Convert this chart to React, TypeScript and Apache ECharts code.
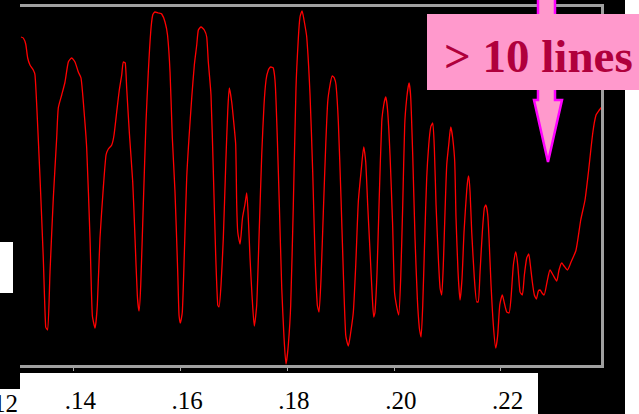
import React, { useEffect, useRef } from "react";
import * as echarts from "echarts";

// Wavelength (x1000) and relative intensity
const spectrum: [number, number][] = [
  [130.19, 328], [130.62, 327], [131.07, 321], [131.44, 307], [131.87, 300], [132.49, 295], [132.81, 290], [133.13, 260],
  [133.75, 187], [134.36, 107], [134.81, 38], [135.19, 35], [135.62, 93], [136.24, 167], [136.87, 227], [137.17, 257],
  [137.81, 270], [138.43, 283], [139.05, 303], [139.68, 307], [140.30, 303], [140.92, 293], [141.43, 287], [141.86, 263],
  [142.49, 217], [143.11, 127], [143.54, 50], [144.05, 37], [144.48, 60], [144.98, 127], [145.60, 177], [146.11, 210],
  [146.54, 216], [147.18, 220], [147.61, 230], [148.11, 253], [148.60, 275], [149.05, 290], [149.35, 303], [149.72, 302],
  [149.98, 277], [150.47, 233], [151.11, 183], [151.54, 127], [151.97, 70], [152.29, 54], [152.61, 80], [153.09, 160],
  [153.60, 243], [154.03, 293], [154.48, 333], [154.85, 350], [155.29, 353], [155.90, 352], [156.54, 351], [157.16, 343],
  [157.63, 330], [158.10, 293], [158.53, 227], [159.03, 173], [159.54, 93], [159.78, 50], [160.02, 42], [160.40, 53],
  [160.77, 110], [161.22, 187], [161.65, 227], [162.16, 267], [162.65, 300], [163.10, 320], [163.40, 335], [163.90, 338],
  [164.52, 335], [164.97, 328], [165.27, 303], [165.77, 270], [166.21, 193], [166.65, 110], [167.03, 60], [167.27, 58],
  [167.65, 80], [168.08, 127], [168.53, 200], [168.90, 253], [169.20, 277], [169.65, 263], [170.08, 240], [170.40, 220],
  [170.59, 160], [170.78, 133], [171.21, 121], [171.67, 147], [172.14, 161], [172.46, 172], [172.76, 147], [173.08, 107],
  [173.45, 70], [173.88, 39], [174.33, 60], [174.76, 127], [175.27, 210], [175.70, 260], [176.08, 285], [176.51, 295],
  [176.96, 298], [177.44, 297], [177.82, 280], [178.19, 227], [178.57, 160], [179.02, 77], [179.45, 27], [179.82, 1],
  [180.25, 20], [180.70, 60], [181.19, 160], [181.69, 277], [182.13, 327], [182.44, 348], [182.82, 354], [183.19, 345],
  [183.70, 328], [184.32, 270], [184.82, 193], [185.25, 110], [185.68, 60], [186.00, 53], [186.38, 87], [186.81, 153],
  [187.26, 220], [187.63, 263], [188.06, 280], [188.49, 289], [188.87, 287], [189.19, 280], [189.62, 243], [190.12, 167],
  [190.55, 93], [191.00, 30], [191.49, 19], [191.87, 30], [192.43, 53], [192.88, 100], [193.36, 163], [193.87, 193],
  [194.38, 218], [194.75, 203], [195.12, 160], [195.56, 113], [195.99, 67], [196.25, 48], [196.49, 53], [196.87, 93],
  [197.24, 160], [197.75, 243], [198.12, 260], [198.50, 268], [198.87, 253], [199.30, 210], [199.77, 143], [200.14, 73],
  [200.56, 58], [200.93, 50], [201.30, 87], [201.68, 160], [202.05, 240], [202.43, 267], [202.86, 282], [203.18, 267],
  [203.55, 210], [203.98, 127], [204.41, 67], [204.79, 37], [205.11, 28], [205.43, 60], [205.80, 127], [206.17, 187],
  [206.55, 220], [206.92, 238], [207.30, 242], [207.60, 217], [207.92, 160], [208.35, 107], [208.67, 77], [208.98, 70],
  [209.28, 100], [209.60, 153], [209.92, 200], [210.29, 220], [210.67, 238], [211.04, 227], [211.42, 203], [211.66, 147],
  [212.04, 93], [212.41, 65], [212.79, 87], [213.16, 133], [213.67, 175], [214.00, 189], [214.29, 173], [214.60, 133],
  [215.09, 87], [215.54, 63], [215.84, 63], [216.16, 93], [216.59, 133], [216.96, 157], [217.23, 160], [217.60, 150],
  [217.84, 127], [218.22, 80], [218.65, 40], [219.10, 17], [219.47, 30], [219.85, 60], [220.33, 70], [220.71, 62],
  [221.16, 53], [221.59, 52], [221.96, 67], [222.40, 100], [222.84, 113], [223.22, 100], [223.65, 73], [224.08, 70],
  [224.46, 90], [224.90, 107], [225.28, 111], [225.58, 100], [225.95, 83], [226.33, 70], [226.70, 66], [227.08, 74],
  [227.40, 75], [227.77, 72], [228.15, 70], [228.71, 83], [229.27, 95], [229.83, 90], [230.52, 84], [230.95, 95],
  [231.46, 102], [231.89, 99], [232.51, 95], [233.20, 103], [234.14, 115], [235.02, 145], [235.82, 165], [236.44, 192],
  [237.27, 232], [237.88, 250], [238.50, 255], [238.95, 258],
];

const tickValues = [140, 160, 180, 200, 220];
const tickLabels = [".14", ".16", ".18", ".20", ".22"];
const offAxisLabel = ".12";
const annotationText = "> 10 lines";

const SERIF = '"Liberation Serif", "Times New Roman", "DejaVu Serif", serif';

export default function App() {
  const ref = useRef<HTMLDivElement>(null);

  useEffect(() => {
    if (!ref.current) return;
    const chart = echarts.init(ref.current, undefined, { renderer: "svg" });
    chart.setOption({
      animation: false,
      backgroundColor: "#000000",
      grid: { left: 20, top: 7, width: 582, height: 358, containLabel: false },
      xAxis: {
        type: "value",
        min: 130,
        max: 239,
        z: 5,
        splitLine: { show: false },
        axisLine: { show: false },
        axisTick: {
          show: true,
          customValues: tickValues,
          length: 6,
          lineStyle: { color: "#aaaaaa", width: 1 },
        },
        axisLabel: {
          customValues: tickValues,
          formatter: (v: number) => {
            const i = tickValues.indexOf(Math.round(v));
            return i >= 0 ? tickLabels[i] : "";
          },
          fontFamily: SERIF,
          fontSize: 25,
          color: "#000000",
          margin: 23,
          padding: [0, 0, 0, 14],
        },
      },
      yAxis: {
        type: "value",
        min: 0,
        max: 358,
        show: false,
      },
      series: [
        {
          type: "line",
          data: spectrum,
          showSymbol: false,
          smooth: 0.2,
          lineStyle: { color: "#ff0000", width: 1.3 },
          z: 3,
        },
      ],
      graphic: [
        { type: "rect", z: -5, shape: { x: 20, y: 373, width: 518, height: 41 }, style: { fill: "#ffffff" } },
        { type: "rect", z: -5, shape: { x: 0, y: 389, width: 20, height: 25 }, style: { fill: "#ffffff" } },
        { type: "rect", z: 1, shape: { x: 0, y: 242, width: 13, height: 51 }, style: { fill: "#ffffff" } },
        { type: "rect", z: 1, shape: { x: 625, y: 0, width: 14, height: 414 }, style: { fill: "#ffffff" } },
        { type: "rect", z: 10, shape: { x: 20, y: 4, width: 584, height: 3 }, style: { fill: "#a0a0a0" } },
        { type: "rect", z: 10, shape: { x: 601, y: 4, width: 3, height: 364 }, style: { fill: "#a0a0a0" } },
        { type: "rect", z: 10, shape: { x: 20, y: 365, width: 584, height: 3 }, style: { fill: "#a0a0a0" } },
        {
          type: "text",
          z: 10,
          style: {
            text: offAxisLabel,
            x: 18,
            y: 403,
            align: "right",
            verticalAlign: "middle",
            font: `25px ${SERIF}`,
            fill: "#000000",
          },
        },
        {
          type: "polygon",
          z: 19,
          shape: {
            points: [
              [538, -3], [555, -3], [555, 100], [562, 100], [548, 162], [534, 100], [538, 100],
            ],
          },
          style: { fill: "#ff99cc", stroke: "#ff00ff", lineWidth: 2.5 },
        },
        { type: "rect", z: 20, shape: { x: 427, y: 14, width: 212, height: 76 }, style: { fill: "#ff99cc" } },
        {
          type: "text",
          z: 21,
          style: {
            text: annotationText,
            x: 444,
            y: 56,
            align: "left",
            verticalAlign: "middle",
            font: `bold 47px ${SERIF}`,
            fill: "#b0003c",
          },
        },
      ],
    });
    return () => chart.dispose();
  }, []);

  return (
    <div
      ref={ref}
      style={{ position: "absolute", left: 0, top: 0, width: 639, height: 414 }}
    />
  );
}
